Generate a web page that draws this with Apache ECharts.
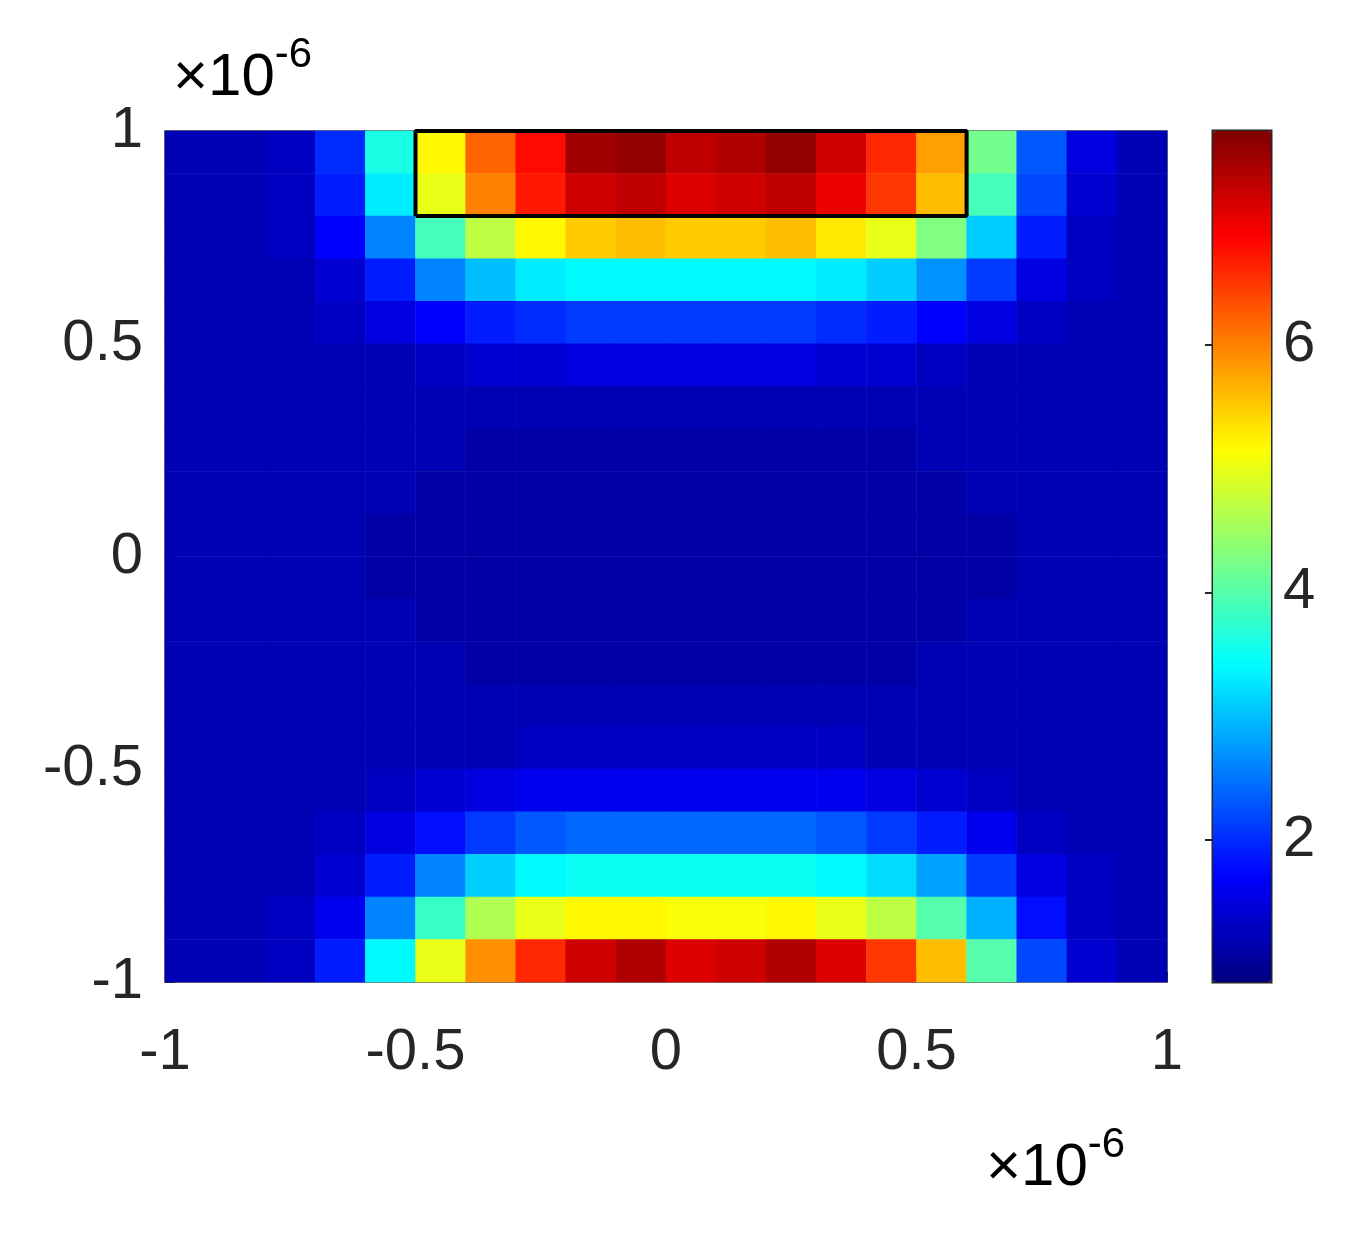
<!DOCTYPE html>
<html><head><meta charset="utf-8">
<script src="https://cdn.jsdelivr.net/npm/echarts@6/dist/echarts.min.js"></script>
<style>html,body{margin:0;padding:0;background:#fff}#c{width:1366px;height:1244px}</style>
</head><body><div id="c"></div>
<script>
// x centers (×1e-6), y centers top to bottom (×1e-6)
const xCenters = [-0.95,-0.85,-0.75,-0.65,-0.55,-0.45,-0.35,-0.25,-0.15,-0.05,0.05,0.15,0.25,0.35,0.45,0.55,0.65,0.75,0.85,0.95];
const yCenters = [0.95,0.85,0.75,0.65,0.55,0.45,0.35,0.25,0.15,0.05,-0.05,-0.15,-0.25,-0.35,-0.45,-0.55,-0.65,-0.75,-0.85,-0.95];
const field = [
 [1.2,1.2,1.3,2.0,3.6,5.2,6.2,6.8,7.5,7.6,7.3,7.4,7.6,7.2,6.6,5.8,4.2,2.3,1.5,1.2],
 [1.2,1.2,1.3,1.9,3.3,5.0,6.0,6.7,7.2,7.3,7.1,7.2,7.3,7.0,6.5,5.6,3.9,2.2,1.4,1.2],
 [1.2,1.2,1.3,1.7,2.6,3.9,4.7,5.2,5.5,5.6,5.5,5.5,5.6,5.3,5.0,4.3,3.1,1.9,1.3,1.2],
 [1.2,1.2,1.2,1.4,1.9,2.6,3.0,3.3,3.4,3.4,3.4,3.4,3.4,3.3,3.1,2.7,2.1,1.5,1.3,1.2],
 [1.2,1.2,1.2,1.3,1.5,1.7,1.9,2.0,2.1,2.1,2.1,2.1,2.1,2.0,1.9,1.7,1.5,1.3,1.2,1.2],
 [1.2,1.2,1.2,1.2,1.2,1.3,1.4,1.4,1.5,1.5,1.5,1.5,1.5,1.4,1.4,1.3,1.2,1.2,1.2,1.2],
 [1.2,1.2,1.2,1.2,1.2,1.2,1.2,1.2,1.2,1.2,1.2,1.2,1.2,1.2,1.2,1.2,1.2,1.2,1.2,1.2],
 [1.2,1.2,1.2,1.2,1.2,1.2,1.1,1.1,1.1,1.1,1.1,1.1,1.1,1.1,1.1,1.2,1.2,1.2,1.2,1.2],
 [1.2,1.2,1.2,1.2,1.2,1.1,1.1,1.1,1.1,1.1,1.1,1.1,1.1,1.1,1.1,1.1,1.2,1.2,1.2,1.2],
 [1.2,1.2,1.2,1.2,1.1,1.1,1.1,1.1,1.1,1.1,1.1,1.1,1.1,1.1,1.1,1.1,1.1,1.2,1.2,1.2],
 [1.2,1.2,1.2,1.2,1.1,1.1,1.1,1.1,1.1,1.1,1.1,1.1,1.1,1.1,1.1,1.1,1.1,1.2,1.2,1.2],
 [1.2,1.2,1.2,1.2,1.2,1.1,1.1,1.1,1.1,1.1,1.1,1.1,1.1,1.1,1.1,1.1,1.2,1.2,1.2,1.2],
 [1.2,1.2,1.2,1.2,1.2,1.2,1.1,1.1,1.1,1.1,1.1,1.1,1.1,1.1,1.1,1.2,1.2,1.2,1.2,1.2],
 [1.2,1.2,1.2,1.2,1.2,1.2,1.2,1.2,1.2,1.2,1.2,1.2,1.2,1.2,1.2,1.2,1.2,1.2,1.2,1.2],
 [1.2,1.2,1.2,1.2,1.2,1.2,1.2,1.3,1.3,1.3,1.3,1.3,1.3,1.3,1.2,1.2,1.2,1.2,1.2,1.2],
 [1.2,1.2,1.2,1.2,1.3,1.4,1.5,1.6,1.6,1.6,1.6,1.6,1.6,1.6,1.5,1.4,1.3,1.2,1.2,1.2],
 [1.2,1.2,1.2,1.3,1.5,1.8,2.1,2.3,2.4,2.4,2.4,2.4,2.4,2.3,2.1,1.9,1.6,1.3,1.2,1.2],
 [1.2,1.2,1.2,1.4,1.9,2.6,3.1,3.4,3.5,3.5,3.5,3.5,3.5,3.4,3.2,2.8,2.1,1.5,1.3,1.2],
 [1.2,1.2,1.3,1.6,2.6,3.8,4.6,5.0,5.2,5.2,5.1,5.1,5.2,5.0,4.7,4.0,2.9,1.8,1.3,1.2],
 [1.2,1.2,1.3,1.9,3.4,5.0,5.9,6.6,7.2,7.4,7.1,7.2,7.4,7.1,6.5,5.6,4.0,2.2,1.4,1.2]
];
const boxX = [-0.5,0.6,0.6,-0.5,-0.5];
const boxY = [0.8,0.8,1.0,1.0,0.8];
const cbTicks = [2,4,6];
const cMin = 0.85, cMax = 7.73;

const jet = ['#000080','#0000ff','#0080ff','#00ffff','#80ff80','#ffff00','#ff8000','#ff0000','#800000'];
const heat = [];
field.forEach((row,j)=>row.forEach((v,i)=>heat.push([i, yCenters.length-1-j, v])));
const font = 'Liberation Sans';
const lab = {fontFamily:font,fontSize:58,color:'#262626'};
const sup = {a:{fontFamily:font,fontSize:60,color:'#262626',verticalAlign:'bottom'},b:{fontFamily:font,fontSize:42,color:'#262626',verticalAlign:'top',padding:[0,0,32,0]}};
const chart = echarts.init(document.getElementById('c'));
chart.setOption({
  animation:false,
  grid:[
    {left:165,top:131,width:1002,height:851,show:true,borderColor:'#444',borderWidth:1.5,backgroundColor:'transparent'},
    {left:1213,top:131,width:58,height:851,show:true,borderColor:'#262626',borderWidth:3,backgroundColor:'transparent'}
  ],
  xAxis:[
    {type:'category',gridIndex:0,data:xCenters,show:false},
    {type:'value',gridIndex:0,position:'bottom',min:-1,max:1,interval:0.5,
      axisLine:{show:false},axisTick:{inside:true,length:10,lineStyle:{color:'#262626'}},
      splitLine:{show:false},axisLabel:{...lab,margin:42}},
    {type:'value',gridIndex:1,show:false,min:0,max:1}
  ],
  yAxis:[
    {type:'category',gridIndex:0,data:yCenters.slice().reverse(),show:false},
    {type:'value',gridIndex:0,position:'left',min:-1,max:1,interval:0.5,
      axisLine:{show:false},axisTick:{inside:true,length:10,lineStyle:{color:'#262626'}},
      splitLine:{show:false},axisLabel:{...lab,margin:22}},
    {type:'value',gridIndex:1,position:'right',min:cMin,max:cMax,
      axisLine:{show:false},splitLine:{show:false},
      axisTick:{inside:true,length:8,customValues:cbTicks,lineStyle:{color:'#262626',width:2}},
      axisLabel:{...lab,margin:12,customValues:cbTicks}}
  ],
  visualMap:[
    {type:'continuous',seriesIndex:0,min:cMin,max:cMax,show:false,inRange:{color:jet}},
    {type:'continuous',seriesIndex:2,min:cMin,max:cMax,show:true,calculable:false,hoverLink:false,
      left:1213,top:131,itemWidth:58,itemHeight:851,padding:0,text:['',''],showLabel:false,
      inRange:{color:jet}}
  ],
  graphic:[
    {type:'text',left:173,top:34,style:{text:'{a|×10}{b|-6}',rich:sup}},
    {type:'text',left:986,top:1124,style:{text:'{a|×10}{b|-6}',rich:sup}}
  ],
  series:[
    {type:'heatmap',xAxisIndex:0,yAxisIndex:0,data:heat,itemStyle:{borderWidth:0}},
    {type:'line',xAxisIndex:1,yAxisIndex:1,data:boxX.map((x,i)=>[x,boxY[i]]),symbol:'none',
      lineStyle:{color:'#000',width:4},z:5},
    {type:'scatter',xAxisIndex:2,yAxisIndex:2,data:[],symbolSize:0}
  ]
});
</script></body></html>
